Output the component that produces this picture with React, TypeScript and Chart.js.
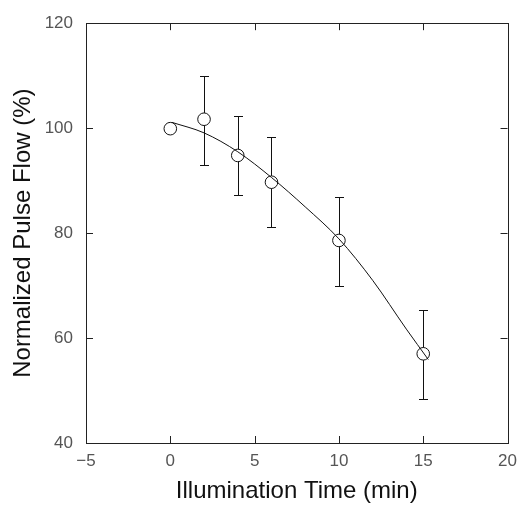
import React, { useEffect, useRef } from "react";
import { Chart, registerables } from "chart.js";

Chart.register(...registerables);

// Measured points
const timeMin = [0, 2, 4, 6, 10, 15];
const flowPct = [99.9, 101.7, 94.8, 89.7, 78.6, 57.0];
const errHigh: (number | null)[] = [null, 110, 102.4, 98.3, 86.9, 65.3];
const errLow: (number | null)[] = [null, 93, 87.2, 81.1, 70, 48.4];

// Fitted curve
const fitTime = [0.1, 2, 4, 6, 8, 10, 12, 14, 15.3];
const fitFlow = [101.1, 99.1, 95.5, 90.6, 85.0, 78.9, 71.0, 61.7, 55.9];

// Axis ticks
const xTickValues = [-5, 0, 5, 10, 15, 20];
const xTickLabels = ["\u22125", "0", "5", "10", "15", "20"];
const yTickValues = [40, 60, 80, 100, 120];
const yTickLabels = ["40", "60", "80", "100", "120"];

const FONT = "'Liberation Sans', Arial, Helvetica, sans-serif";
const POINT_R = 6.3;

const framePlugin = {
  id: "frameTicks",
  beforeDatasetsDraw(chart: any) {
    const { ctx, chartArea, scales } = chart;
    const { left, right, top, bottom } = chartArea;
    const xs = scales.x;
    const ys = scales.y;
    const tl = 7;
    ctx.save();
    ctx.strokeStyle = "#222";
    ctx.lineWidth = 1;
    ctx.strokeRect(Math.round(left) + 0.5, Math.round(top) + 0.5, Math.round(right - left), Math.round(bottom - top));
    ctx.beginPath();
    xTickValues.forEach((v) => {
      const px = Math.round(xs.getPixelForValue(v)) + 0.5;
      if (px <= left + 1 || px >= right - 1) return;
      ctx.moveTo(px, bottom);
      ctx.lineTo(px, bottom - tl);
      ctx.moveTo(px, top);
      ctx.lineTo(px, top + tl);
    });
    yTickValues.forEach((v) => {
      const py = Math.round(ys.getPixelForValue(v)) + 0.5;
      if (py <= top + 1 || py >= bottom - 1) return;
      ctx.moveTo(left, py);
      ctx.lineTo(left + tl, py);
      ctx.moveTo(right, py);
      ctx.lineTo(right - tl, py);
    });
    ctx.stroke();
    ctx.restore();
  },
  afterDatasetsDraw(chart: any) {
    const { ctx, scales } = chart;
    const xs = scales.x;
    const ys = scales.y;
    const cap = 4.5;
    ctx.save();
    ctx.strokeStyle = "#111";
    ctx.lineWidth = 1;
    ctx.beginPath();
    timeMin.forEach((t, i) => {
      const hi = errHigh[i];
      const lo = errLow[i];
      if (hi == null || lo == null) return;
      const px = Math.round(xs.getPixelForValue(t)) + 0.5;
      const pc = ys.getPixelForValue(flowPct[i]);
      const ph = Math.round(ys.getPixelForValue(hi)) + 0.5;
      const pl = Math.round(ys.getPixelForValue(lo)) + 0.5;
      ctx.moveTo(px, ph);
      ctx.lineTo(px, pc - POINT_R);
      ctx.moveTo(px, pc + POINT_R);
      ctx.lineTo(px, pl);
      ctx.moveTo(px - cap, ph);
      ctx.lineTo(px + cap, ph);
      ctx.moveTo(px - cap, pl);
      ctx.lineTo(px + cap, pl);
    });
    ctx.stroke();
    ctx.restore();
  },
};

export default function App() {
  const ref = useRef<HTMLCanvasElement | null>(null);
  useEffect(() => {
    if (!ref.current) return;
    const chart = new Chart(ref.current, {
      type: "scatter",
      data: {
        datasets: [
          {
            label: "fit",
            data: fitTime.map((x, i) => ({ x, y: fitFlow[i] })),
            showLine: true,
            tension: 0.4,
            cubicInterpolationMode: "monotone",
            borderColor: "#111",
            borderWidth: 1,
            pointRadius: 0,
            fill: false,
          } as any,
          {
            label: "data",
            data: timeMin.map((x, i) => ({ x, y: flowPct[i] })),
            showLine: false,
            pointStyle: "circle",
            pointRadius: POINT_R,
            borderColor: "#111",
            borderWidth: 1,
            backgroundColor: "rgba(0,0,0,0)",
          },
        ],
      },
      options: {
        animation: false,
        responsive: false,
        maintainAspectRatio: false,
        layout: { padding: { left: 0, top: 17, right: 13, bottom: 0 } },
        plugins: { legend: { display: false }, tooltip: { enabled: false } },
        scales: {
          x: {
            type: "linear",
            min: -5,
            max: 20,
            afterBuildTicks: (s: any) => {
              s.ticks = xTickValues.map((v) => ({ value: v }));
            },
            afterFit: (s: any) => {
              s.height = 63;
            },
            grid: { display: false, drawTicks: false },
            border: { display: false },
            ticks: {
              padding: 8,
              color: "#555",
              font: { family: FONT, size: 17 },
              maxRotation: 0,
              autoSkip: false,
              callback: (v: any) => {
                const i = xTickValues.indexOf(Number(v));
                return i >= 0 ? xTickLabels[i] : "";
              },
            },
            title: {
              display: true,
              text: "Illumination Time (min)",
              color: "#111",
              font: { family: FONT, size: 24 },
              padding: { top: 0, bottom: 0 },
            },
          },
          y: {
            type: "linear",
            min: 40,
            max: 120,
            afterBuildTicks: (s: any) => {
              s.ticks = yTickValues.map((v) => ({ value: v }));
            },
            afterFit: (s: any) => {
              s.width = 86;
            },
            grid: { display: false, drawTicks: false },
            border: { display: false },
            ticks: {
              padding: 13,
              color: "#555",
              font: { family: FONT, size: 17 },
              autoSkip: false,
              callback: (v: any) => {
                const i = yTickValues.indexOf(Number(v));
                return i >= 0 ? yTickLabels[i] : "";
              },
            },
            title: {
              display: true,
              text: "Normalized Pulse Flow (%)",
              color: "#111",
              font: { family: FONT, size: 24 },
              padding: { top: 9, bottom: 0 },
            },
          },
        },
      },
      plugins: [framePlugin],
    });
    return () => chart.destroy();
  }, []);
  return (
    <div style={{ position: "fixed", left: 0, top: 0, width: 525, height: 506, background: "#fff" }}>
      <canvas ref={ref} width={525} height={506} style={{ width: 525, height: 506, display: "block" }} />
    </div>
  );
}
